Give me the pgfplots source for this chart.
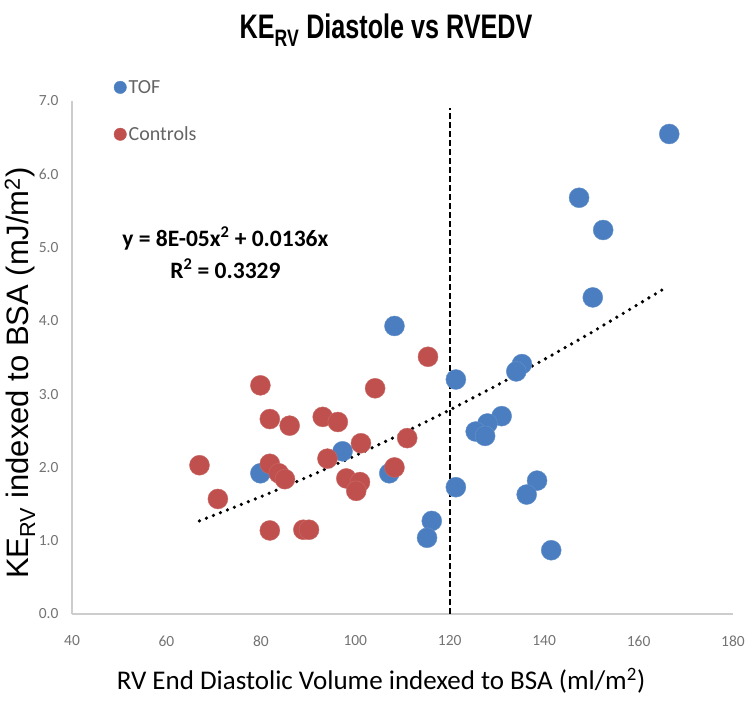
\documentclass[border=0pt]{standalone}
\usepackage{fontspec}
\setmainfont{Carlito}
\newfontfamily\arialf{Liberation Sans}
\newfontfamily\titlef[FakeStretch=0.74]{Liberation Sans}
\usepackage{pgfplots}
\pgfplotsset{compat=1.18}
\definecolor{tofblue}{RGB}{74,126,193}
\definecolor{ctrlred}{RGB}{192,80,77}
\definecolor{axgray}{RGB}{205,205,205}
\definecolor{tickgray}{RGB}{115,115,115}
\definecolor{leggray}{RGB}{100,100,100}
\begin{document}
\begin{tikzpicture}
\path[use as bounding box] (-72pt,-91pt) rectangle (678pt,614pt);
\begin{axis}[
  at={(0,0)}, anchor=south west,
  scale only axis, width=661pt, height=513pt,
  xmin=40, xmax=180, ymin=0, ymax=7,
  axis x line=bottom, axis y line=left,
  axis line style={draw=axgray, line width=1.5pt, -},
  xtick={40,60,...,180}, ytick={0,1,...,7},
  major tick length=0pt,
  /pgf/number format/assume math mode=true,
  tick label style={font=\fontsize{15.5}{17}\selectfont, text=tickgray},
  yticklabel style={xshift=-10pt, /pgf/number format/.cd, fixed, fixed zerofill, precision=1},
  xticklabel style={yshift=-18pt},
  clip=false,
  legend style={draw=none, fill=none, at={(0.063,1.045)}, anchor=north west,
    font=\fontsize{20}{22}\selectfont, text=leggray, row sep=28pt, inner sep=0pt},
  legend cell align=left,
]
\addplot[only marks, mark=*, mark size=10pt, color=tofblue, mark options={fill=tofblue, draw=tofblue!85!white},
  legend image code/.code={\fill[tofblue] (0.15cm,0cm) circle (6.2pt);}]
  coordinates {
  (166.5,6.55) (147.4,5.68) (152.5,5.24) (150.3,4.32) (108.3,3.93)
  (121.3,3.20) (135.3,3.41) (134.1,3.31) (131.0,2.70) (128.0,2.60)
  (125.5,2.49) (127.5,2.43) (79.9,1.92) (97.3,2.22) (107.2,1.92)
  (121.3,1.73) (138.5,1.82) (136.3,1.63) (116.2,1.27) (115.2,1.04)
  (141.5,0.87)
  };
\addlegendentry{TOF}
\addplot[only marks, mark=*, mark size=10pt, color=ctrlred, mark options={fill=ctrlred, draw=ctrlred!85!white},
  legend image code/.code={\fill[ctrlred] (0.15cm,0cm) circle (6.2pt);}]
  coordinates {
  (79.9,3.12) (104.2,3.08) (115.4,3.51) (81.9,2.66) (86.1,2.57)
  (93.1,2.69) (96.3,2.62) (101.2,2.33) (111.0,2.40) (67.0,2.03)
  (70.9,1.57) (81.9,2.05) (83.8,1.92) (85.1,1.84) (94.1,2.12)
  (98.1,1.85) (101.0,1.80) (100.2,1.68) (108.3,2.00) (81.9,1.14)
  (89.0,1.15) (90.2,1.15)
  };
\addlegendentry{Controls}
\addplot[forget plot, black, line width=1.8pt, dash pattern=on 6pt off 3pt]
  coordinates {(120,0) (120,6.9)};
\addplot[forget plot, black, line width=3.6pt, line cap=round, dash pattern=on 0pt off 7.5pt]
  coordinates {(67,1.270) (80,1.600) (90,1.872) (100,2.160) (110,2.464)
  (120,2.784) (130,3.120) (140,3.472) (150,3.840) (166,4.462)};
\node[font=\bfseries\fontsize{23.5}{32}\selectfont, align=center] at (axis cs:72.5,4.93)
  {y = 8E-05x\textsuperscript{2} + 0.0136x\\R\textsuperscript{2} = 0.3329};
\end{axis}
\node[font=\titlef\bfseries\fontsize{34}{38}\selectfont] at (314pt,584pt)
  {KE\textsubscript{RV} Diastole vs RVEDV};
\node[font=\fontsize{27}{30}\selectfont] at (309pt,-67pt)
  {RV End Diastolic Volume indexed to BSA (ml/m\textsuperscript{2})};
\node[font=\arialf\fontsize{31}{34}\selectfont, rotate=90] at (-52pt,241pt)
  {KE\textsubscript{RV} indexed to BSA (mJ/m\textsuperscript{2})};
\end{tikzpicture}
\end{document}
